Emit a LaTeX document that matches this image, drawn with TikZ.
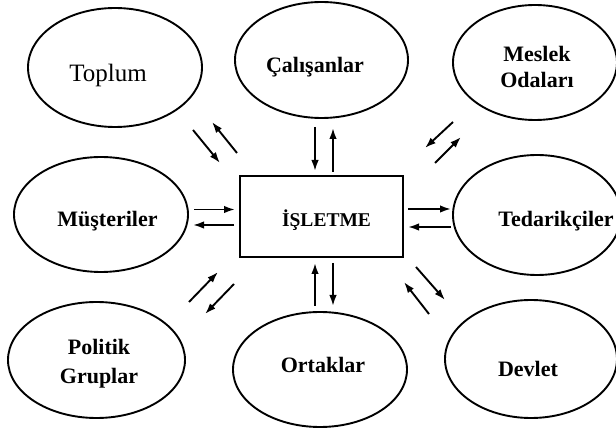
\documentclass[tikz,border=0pt]{standalone}
\usepackage{fontspec}
\setmainfont{Liberation Serif}
\usetikzlibrary{shapes.geometric,arrows.meta}
\begin{document}
\begin{tikzpicture}[x=1pt,y=-1pt,
  ell/.style={ellipse, draw, line width=1.9pt, inner sep=0pt},
  boxst/.style={draw, line width=2.1pt, inner sep=0pt},
  lbl/.style={anchor=base, inner sep=0pt, font=\fontsize{22}{24}\selectfont\bfseries},
  arr/.style={line width=1.9pt, -{Latex[length=11pt,width=7.5pt]}}]
\useasboundingbox (0,0) rectangle (616,430);
\fill[white] (0,0) rectangle (616,430);
\clip (0,0) rectangle (616,430);

% ellipses and box
\node[ell, minimum width=174pt, minimum height=119pt] (toplum) at (115,67.5) {};
\node[ell, minimum width=173pt, minimum height=116pt] (calisan) at (321.5,60) {};
\node[ell, minimum width=164pt, minimum height=115pt] (meslek) at (535,62.5) {};
\node[ell, minimum width=174pt, minimum height=115pt] (musteri) at (101,214.5) {};
\node[boxst, minimum width=163pt, minimum height=81pt] (isletme) at (321.5,216.5) {};
\node[ell, minimum width=168pt, minimum height=120pt] (tedarik) at (537,215) {};
\node[ell, minimum width=177pt, minimum height=116pt] (politik) at (96.5,360) {};
\node[ell, minimum width=174pt, minimum height=115pt] (ortak) at (320,369.5) {};
\node[ell, minimum width=172pt, minimum height=118pt] (devlet) at (531,359) {};

% texts
\node[lbl, font=\fontsize{25}{28}\selectfont] (tToplum) at (108,82) {Toplum};
\node[lbl] (tCal) at (315,73) {Çalışanlar};
\node[lbl] (tMes1) at (537,62) {Meslek};
\node[lbl] (tMes2) at (537,88) {Odaları};
\node[lbl] (tMus) at (107.5,227) {Müşteriler};
\node[lbl, font=\fontsize{19.5}{22}\selectfont\bfseries] (tIs) at (326.5,227) {İŞLETME};
\node[lbl] (tTed) at (556,227) {Tedarikçiler};
\node[lbl] (tPol1) at (99,355) {Politik};
\node[lbl] (tPol2) at (99,383) {Gruplar};
\node[lbl] (tOrt) at (323,373) {Ortaklar};
\node[lbl] (tDev) at (528,377) {Devlet};

% arrow end points
\coordinate (a1s) at (193,130); \coordinate (a1e) at (220,163);
\coordinate (a2s) at (237,153); \coordinate (a2e) at (212,122);
\coordinate (b1s) at (315,127); \coordinate (b1e) at (315,171);
\coordinate (b2s) at (333,172); \coordinate (b2e) at (333,128);
\coordinate (c1s) at (453,122); \coordinate (c1e) at (425,148);
\coordinate (c2s) at (435,163); \coordinate (c2e) at (461,137);
\coordinate (d1s) at (194,209.5); \coordinate (d1e) at (235,209.5);
\coordinate (d2s) at (234,225); \coordinate (d2e) at (193,225);
\coordinate (e1s) at (408,209); \coordinate (e1e) at (451,209);
\coordinate (e2s) at (451,227); \coordinate (e2e) at (408,227);
\coordinate (f1s) at (189,302); \coordinate (f1e) at (218,272);
\coordinate (f2s) at (234,284); \coordinate (f2e) at (205,314);
\coordinate (g1s) at (315,306); \coordinate (g1e) at (315,263);
\coordinate (g2s) at (333,263); \coordinate (g2e) at (333,306);
\coordinate (h1s) at (416,267); \coordinate (h1e) at (445,300);
\coordinate (h2s) at (429,314); \coordinate (h2e) at (404,282);

\foreach \p in {a1,a2,b1,b2,c1,c2,d1,d2,e1,e2,f1,f2,g1,g2,h1,h2}
  \draw[arr] (\p s) -- (\p e);
\end{tikzpicture}
\end{document}
